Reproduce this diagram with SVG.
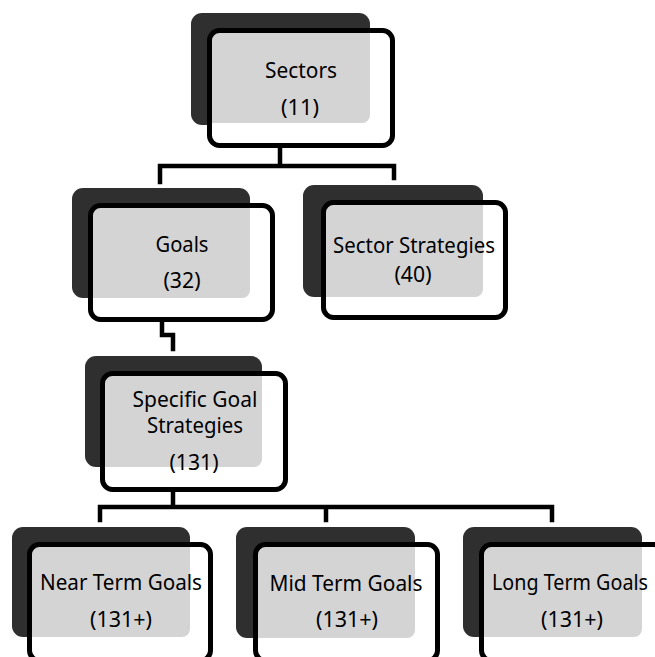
<svg xmlns="http://www.w3.org/2000/svg" width="655" height="657" viewBox="0 0 655 657">
  <style>
    .shadow { fill: #2f2f2f; }
    .card { fill: #ffffff; }
    .tint { fill: #d4d4d4; }
    .frame { fill: none; stroke: #000; stroke-width: 5; }
    .wire { fill: none; stroke: #000; stroke-width: 4.5; stroke-linejoin: miter; stroke-linecap: square; }
    text { font-family: "Noto Sans", "Open Sans", sans-serif; font-size: 21px; fill: #000; text-anchor: middle; }
  </style>

  <rect width="655" height="657" fill="#ffffff"/>

  <!-- connectors -->
  <g id="connectors">
    <path class="wire" d="M280,148 V166 M160,182 V166 H394 V178"/>
    <path class="wire" d="M162,322 V335 H173 V349"/>
    <path class="wire" d="M173,492 V507 M100,520 V507 H552 V520 M326,507 V520"/>
  </g>

  <!-- Sectors -->
  <g id="sectors">
    <rect class="shadow" x="191" y="13" width="179" height="112" rx="11"/>
    <rect class="card" x="209.5" y="30.5" width="183" height="115" rx="10"/>
    <path class="tint" d="M212,33 H370 V115 a8,8 0 0 1 -8,8 H212 Z"/>
    <text x="301" y="78" textLength="72" lengthAdjust="spacingAndGlyphs">Sectors</text>
    <text x="300" y="115" textLength="38" lengthAdjust="spacingAndGlyphs">(11)</text>
    <rect class="frame" x="209.5" y="30.5" width="183" height="115" rx="10"/>
  </g>

  <!-- Goals -->
  <g id="goals">
    <rect class="shadow" x="72" y="188" width="178" height="110" rx="11"/>
    <rect class="card" x="90.5" y="205.5" width="182" height="114" rx="10"/>
    <path class="tint" d="M93,208 H250 V290 a8,8 0 0 1 -8,8 H93 Z"/>
    <text x="182" y="252" textLength="53" lengthAdjust="spacingAndGlyphs">Goals</text>
    <text x="182" y="288" textLength="37" lengthAdjust="spacingAndGlyphs">(32)</text>
    <rect class="frame" x="90.5" y="205.5" width="182" height="114" rx="10"/>
  </g>

  <!-- Sector Strategies -->
  <g id="sector-strategies">
    <rect class="shadow" x="303" y="185" width="180" height="112" rx="11"/>
    <rect class="card" x="323.5" y="202.5" width="182" height="115" rx="10"/>
    <path class="tint" d="M326,205 H483 V289 a8,8 0 0 1 -8,8 H326 Z"/>
    <text x="414" y="253" textLength="162" lengthAdjust="spacingAndGlyphs">Sector Strategies</text>
    <text x="413" y="282" textLength="37" lengthAdjust="spacingAndGlyphs">(40)</text>
    <rect class="frame" x="323.5" y="202.5" width="182" height="115" rx="10"/>
  </g>

  <!-- Specific Goal Strategies -->
  <g id="specific-goal-strategies">
    <rect class="shadow" x="85" y="356" width="177" height="111" rx="11"/>
    <rect class="card" x="102.5" y="373.5" width="183" height="116" rx="10"/>
    <path class="tint" d="M105,376 H262 V459 a8,8 0 0 1 -8,8 H105 Z"/>
    <text x="195" y="407" textLength="125" lengthAdjust="spacingAndGlyphs">Specific Goal</text>
    <text x="195" y="433" textLength="96" lengthAdjust="spacingAndGlyphs">Strategies</text>
    <text x="194" y="470" textLength="49" lengthAdjust="spacingAndGlyphs">(131)</text>
    <rect class="frame" x="102.5" y="373.5" width="183" height="116" rx="10"/>
  </g>

  <!-- Near Term Goals -->
  <g id="near-term-goals">
    <rect class="shadow" x="12" y="527" width="178" height="110" rx="11"/>
    <rect class="card" x="29.5" y="544.5" width="181" height="116" rx="10"/>
    <path class="tint" d="M32,547 H190 V629 a8,8 0 0 1 -8,8 H32 Z"/>
    <text x="121" y="590" textLength="162" lengthAdjust="spacingAndGlyphs">Near Term Goals</text>
    <text x="121" y="627" textLength="62" lengthAdjust="spacingAndGlyphs">(131+)</text>
    <rect class="frame" x="29.5" y="544.5" width="181" height="116" rx="10"/>
  </g>

  <!-- Mid Term Goals -->
  <g id="mid-term-goals">
    <rect class="shadow" x="236" y="527" width="179" height="111" rx="11"/>
    <rect class="card" x="255.5" y="544.5" width="182" height="116" rx="10"/>
    <path class="tint" d="M258,547 H415 V630 a8,8 0 0 1 -8,8 H258 Z"/>
    <text x="346" y="591" textLength="153" lengthAdjust="spacingAndGlyphs">Mid Term Goals</text>
    <text x="347" y="627" textLength="62" lengthAdjust="spacingAndGlyphs">(131+)</text>
    <rect class="frame" x="255.5" y="544.5" width="182" height="116" rx="10"/>
  </g>

  <!-- Long Term Goals -->
  <g id="long-term-goals">
    <rect class="shadow" x="463" y="527" width="179" height="110" rx="11"/>
    <rect class="card" x="481.5" y="544.5" width="182" height="116" rx="10"/>
    <path class="tint" d="M484,547 H642 V629 a8,8 0 0 1 -8,8 H484 Z"/>
    <text x="570" y="590" textLength="156" lengthAdjust="spacingAndGlyphs">Long Term Goals</text>
    <text x="572" y="627" textLength="62" lengthAdjust="spacingAndGlyphs">(131+)</text>
    <rect class="frame" x="481.5" y="544.5" width="182" height="116" rx="10"/>
  </g>
</svg>
